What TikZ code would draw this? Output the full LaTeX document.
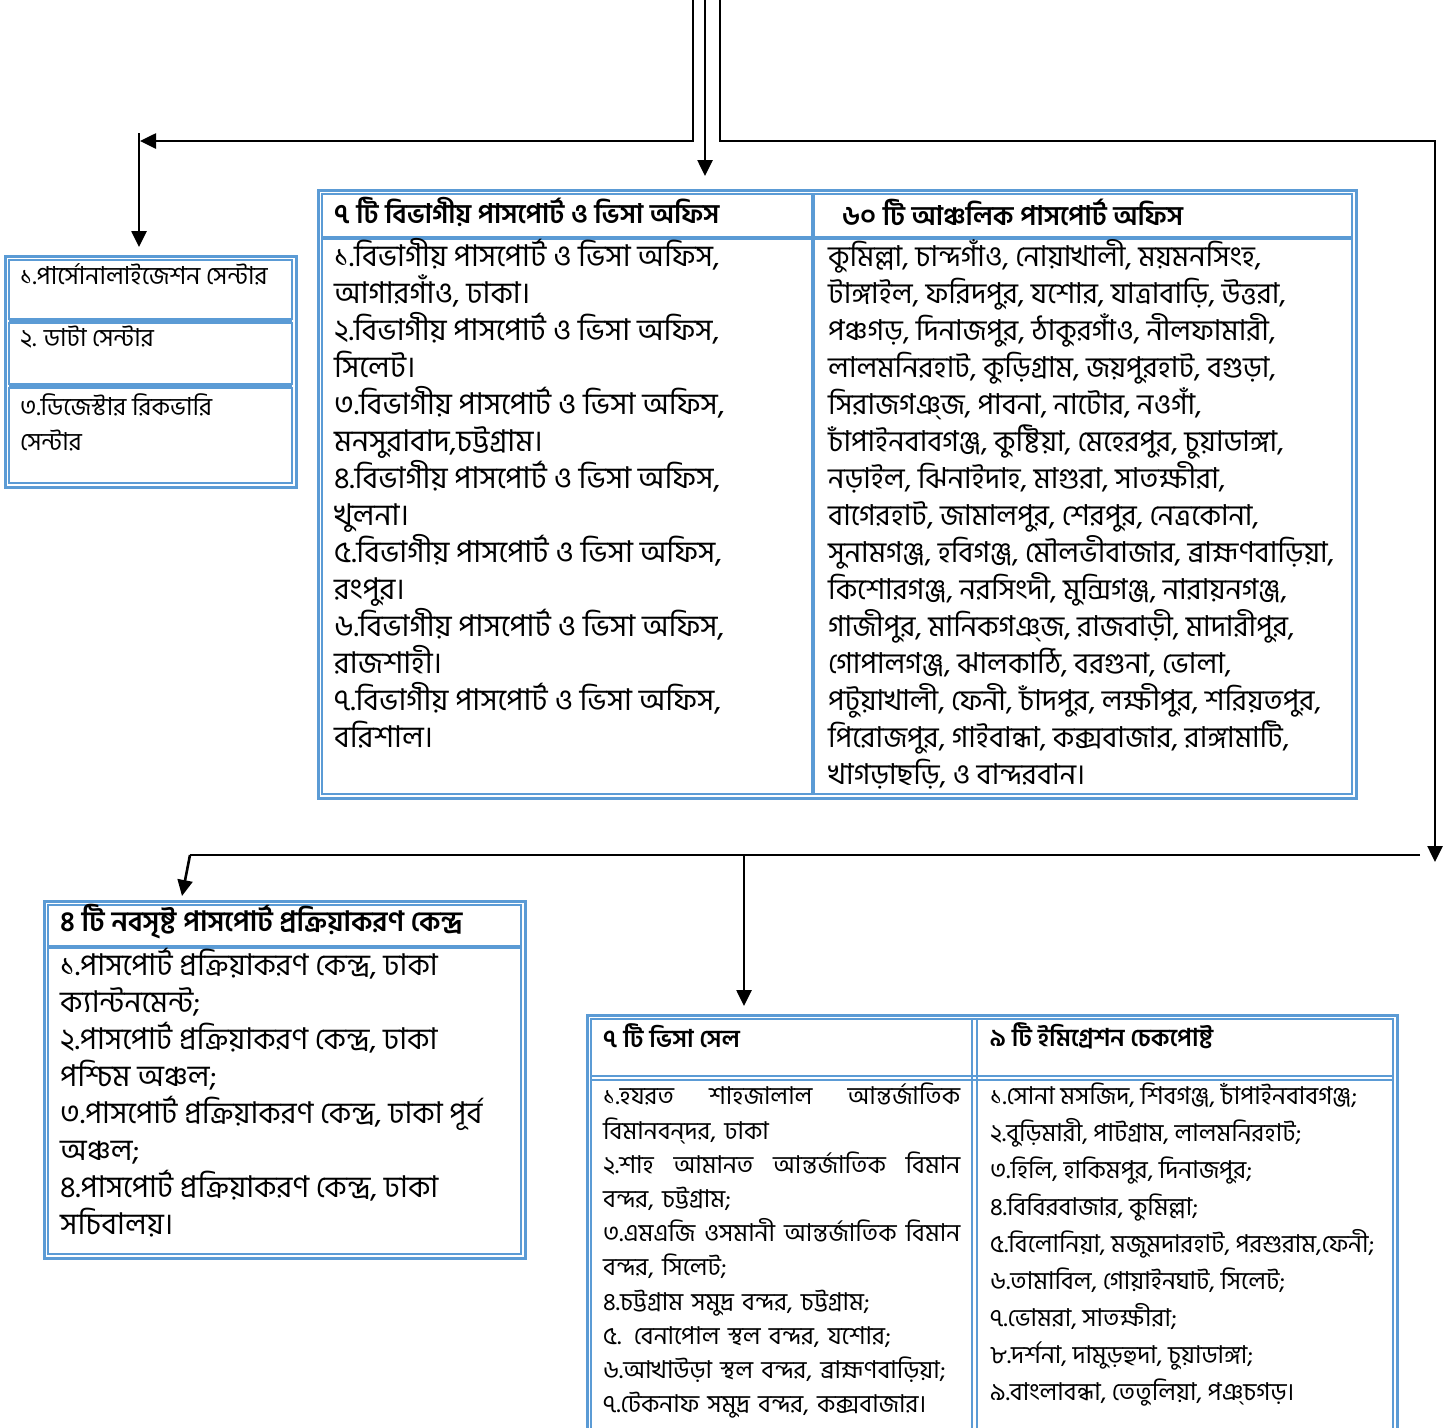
\documentclass[tikz,border=0pt]{standalone}
\usepackage{fontspec}
\newfontfamily\bn[Script=Bengali]{Hind Siliguri}
\usetikzlibrary{arrows.meta}
\definecolor{tblue}{HTML}{5B9BD5}
\tikzset{
  conn/.style={line width=2.6pt, -{Triangle[length=16pt,width=15pt]}},
  plainline/.style={line width=2.6pt},
  outerb/.style={draw=tblue, line width=3pt},
  innerb/.style={draw=tblue, line width=1.2pt},
  cellsep/.style={draw=tblue, line width=3.5pt},
  bodytxt/.style={inner sep=0pt, align=left, anchor=north west},
  headtxt/.style={inner sep=0pt, anchor=west},
  fbig/.style={font=\bn\fontsize{30}{37}\selectfont},
  fmid/.style={font=\bn\fontsize{28.8}{37}\selectfont},
  fsmall/.style={font=\bn\fontsize{24.8}{35}\selectfont},
  fvisa/.style={font=\bn\fontsize{24.6}{34.2}\selectfont},
  fimm/.style={font=\bn\fontsize{24.6}{36.9}\selectfont},
  hbig/.style={font=\bn\bfseries\fontsize{27}{37}\selectfont},
  hbl/.style={font=\bn\bfseries\fontsize{28}{37}\selectfont},
  hsmall/.style={font=\bn\bfseries\fontsize{24.5}{37}\selectfont},
}
\begin{document}
\begin{tikzpicture}[x=1pt, y=-1pt]
\useasboundingbox (0,0) rectangle (1453,1427);

% ---------- left small box ----------
\draw[outerb] (5,256) rectangle (296,487);
\draw[innerb] (9,260) rectangle (292,319);
\draw[innerb] (9,323) rectangle (292,384);
\draw[innerb] (9,388) rectangle (292,483);
\draw[cellsep] (9,321) -- (292,321);
\draw[cellsep] (9,386) -- (292,386);
\node[bodytxt, fsmall] (lb1) at (20,263) {১.পার্সোনালাইজেশন সেন্টার};
\node[bodytxt, fsmall] (lb2) at (20,326) {২. ডাটা সেন্টার};
\node[bodytxt, fsmall] (lb3) at (20,393) {৩.ডিজেস্টার রিকভারি\\সেন্টার};
\coordinate (lbTop) at (139,256);

% ---------- top table ----------
\draw[outerb] (318,190) rectangle (1356,798);
\draw[innerb] (322,194) rectangle (1352,794);
\draw[cellsep] (813,194) -- (813,794);
\draw[cellsep] (322,238) -- (1352,238);
\node[headtxt, hbig] (tth1) at (334,212) {৭ টি বিভাগীয় পাসপোর্ট ও ভিসা অফিস};
\node[headtxt, hbig] (tth2) at (842,212) {৬০ টি আঞ্চলিক পাসপোর্ট অফিস};
\node[bodytxt, fbig] (ttb1) at (334,238) {১.বিভাগীয় পাসপোর্ট ও ভিসা অফিস,\\
আগারগাঁও, ঢাকা।\\
২.বিভাগীয় পাসপোর্ট ও ভিসা অফিস,\\
সিলেট।\\
৩.বিভাগীয় পাসপোর্ট ও ভিসা অফিস,\\
মনসুরাবাদ,চট্টগ্রাম।\\
৪.বিভাগীয় পাসপোর্ট ও ভিসা অফিস,\\
খুলনা।\\
৫.বিভাগীয় পাসপোর্ট ও ভিসা অফিস,\\
রংপুর।\\
৬.বিভাগীয় পাসপোর্ট ও ভিসা অফিস,\\
রাজশাহী।\\
৭.বিভাগীয় পাসপোর্ট ও ভিসা অফিস,\\
বরিশাল।};
\node[bodytxt, fmid] (ttb2) at (828,239) {কুমিল্লা, চান্দগাঁও, নোয়াখালী, ময়মনসিংহ,\\
টাঙ্গাইল, ফরিদপুর, যশোর, যাত্রাবাড়ি, উত্তরা,\\
পঞ্চগড়, দিনাজপুর, ঠাকুরগাঁও, নীলফামারী,\\
লালমনিরহাট, কুড়িগ্রাম, জয়পুরহাট, বগুড়া,\\
সিরাজগঞ্^^^^200cজ, পাবনা, নাটোর, নওগাঁ,\\
চাঁপাইনবাবগঞ্জ, কুষ্টিয়া, মেহেরপুর, চুয়াডাঙ্গা,\\
নড়াইল, ঝিনাইদাহ, মাগুরা, সাতক্ষীরা,\\
বাগেরহাট, জামালপুর, শেরপুর, নেত্রকোনা,\\
সুনামগঞ্জ, হবিগঞ্জ, মৌলভীবাজার, ব্রাহ্মণবাড়িয়া,\\
কিশোরগঞ্জ, নরসিংদী, মুন্সিগঞ্জ, নারায়নগঞ্জ,\\
গাজীপুর, মানিকগঞ্^^^^200cজ, রাজবাড়ী, মাদারীপুর,\\
গোপালগঞ্জ, ঝালকাঠি, বরগুনা, ভোলা,\\
পটুয়াখালী, ফেনী, চাঁদপুর, লক্ষীপুর, শরিয়তপুর,\\
পিরোজপুর, গাইবান্ধা, কক্সবাজার, রাঙ্গামাটি,\\
খাগড়াছড়ি, ও বান্দরবান।};
\coordinate (ttTop) at (705,190);

% ---------- bottom-left table ----------
\draw[outerb] (44,901) rectangle (525,1258);
\draw[innerb] (48,905) rectangle (521,1254);
\draw[cellsep] (48,947) -- (521,947);
\node[headtxt, hbl] (blh) at (60,922) {৪ টি নবসৃষ্ট পাসপোর্ট প্রক্রিয়াকরণ কেন্দ্র};
\node[bodytxt, fbig] (blb) at (60,948) {১.পাসপোর্ট প্রক্রিয়াকরণ কেন্দ্র, ঢাকা\\
ক্যান্টনমেন্ট;\\
২.পাসপোর্ট প্রক্রিয়াকরণ কেন্দ্র, ঢাকা\\
পশ্চিম অঞ্চল;\\
৩.পাসপোর্ট প্রক্রিয়াকরণ কেন্দ্র, ঢাকা পূর্ব\\
অঞ্চল;\\
৪.পাসপোর্ট প্রক্রিয়াকরণ কেন্দ্র, ঢাকা\\
সচিবালয়।};
\coordinate (blTop) at (182,901);

% ---------- bottom-right table ----------
\draw[outerb] (587,1015) rectangle (1397,1445);
\draw[innerb] (591,1019) rectangle (1393,1441);
\draw[innerb] (972,1019) -- (972,1441);
\draw[innerb] (977,1019) -- (977,1441);
\draw[innerb] (591,1076) -- (1393,1076);
\draw[innerb] (591,1080) -- (1393,1080);
\node[headtxt, hsmall] (brh1) at (603,1036) {৭ টি ভিসা সেল};
\node[headtxt, hsmall] (brh2) at (990,1036) {৯ টি ইমিগ্রেশন চেকপোষ্ট};
\node[bodytxt, fvisa, text width=357pt] (brb1) at (603,1083) {১.হযরত\hfill শাহজালাল\hfill আন্তর্জাতিক\\
বিমানবন্^^^^200cদর, ঢাকা\\
২.শাহ\hfill আমানত\hfill আন্তর্জাতিক\hfill বিমান\\
বন্দর, চট্টগ্রাম;\\
৩.এমএজি\hfill ওসমানী\hfill আন্তর্জাতিক\hfill বিমান\\
বন্দর, সিলেট;\\
৪.চট্টগ্রাম সমুদ্র বন্দর, চট্টগ্রাম;\\
৫. বেনাপোল স্থল বন্দর, যশোর;\\
৬.আখাউড়া স্থল বন্দর, ব্রাহ্মণবাড়িয়া;\\
৭.টেকনাফ সমুদ্র বন্দর, কক্সবাজার।};
\node[bodytxt, fimm] (brb2) at (990,1083) {১.সোনা মসজিদ, শিবগঞ্জ, চাঁপাইনবাবগঞ্জ;\\
২.বুড়িমারী, পাটগ্রাম, লালমনিরহাট;\\
৩.হিলি, হাকিমপুর, দিনাজপুর;\\
৪.বিবিরবাজার, কুমিল্লা;\\
৫.বিলোনিয়া, মজুমদারহাট, পরশুরাম,ফেনী;\\
৬.তামাবিল, গোয়াইনঘাট, সিলেট;\\
৭.ভোমরা, সাতক্ষীরা;\\
৮.দর্শনা, দামুড়হুদা, চুয়াডাঙ্গা;\\
৯.বাংলাবন্ধা, তেতুলিয়া, পঞ্^^^^200cচগড়।};
\coordinate (brTop) at (744,1015);

% ---------- connectors ----------
\coordinate (srcA) at (693,0);
\coordinate (srcB) at (705,0);
\coordinate (srcC) at (720,0);
\coordinate (jA) at (140,141);
\coordinate (lbStart) at (139,133);
\coordinate (lbTip) at (139,247);
\coordinate (ttTip) at (705,176);
\coordinate (cR) at (1435,141);
\coordinate (cTip) at (1435,862);
\coordinate (hR) at (1420,855);
\coordinate (hL) at (190,855);
\coordinate (hM) at (744,855);
\coordinate (blTip) at (182,896);
\coordinate (brTip) at (744,1006);

\draw[conn] (srcA) |- (jA);
\draw[conn] (lbStart) -- (lbTip);
\draw[conn] (srcB) -- (ttTip);
\draw[conn] (srcC) |- (cR) -- (cTip);
\draw[plainline] (hR) -- (hL);
\draw[conn] (hL) -- (blTip);
\draw[conn] (hM) -- (brTip);
\end{tikzpicture}
\end{document}
